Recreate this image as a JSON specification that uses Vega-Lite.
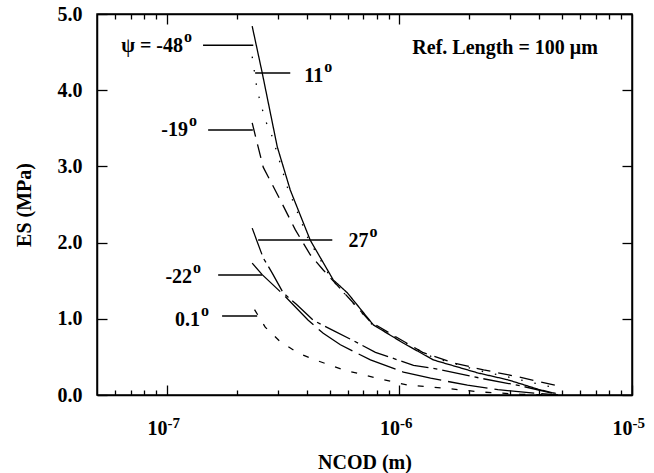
{
  "$schema": "https://vega.github.io/schema/vega-lite/v6.json",
  "width": 535,
  "height": 381,
  "autosize": "none",
  "padding": {"left": 97, "top": 14, "right": 22, "bottom": 78},
  "background": "white",
  "config": {
    "view": {"stroke": "black", "strokeWidth": 1.5},
    "font": "Liberation Serif",
    "axis": {
      "grid": false,
      "domainColor": "black",
      "domainWidth": 1.5,
      "tickColor": "black",
      "tickWidth": 1.3,
      "labelColor": "black",
      "titleColor": "black",
      "labelFont": "Liberation Serif",
      "titleFont": "Liberation Serif",
      "labelFontWeight": "bold",
      "titleFontWeight": "bold",
      "labelFontSize": 20,
      "titleFontSize": 20,
      "labelFlush": false,
      "labelOverlap": false,
      "labelBound": false
    }
  },
  "datasets": {
    "curves": [
      {"psi": "-48", "ncod": 2.325e-7, "es": 4.84},
      {"psi": "-48", "ncod": 2.567e-7, "es": 4.23},
      {"psi": "-48", "ncod": 2.979e-7, "es": 3.26},
      {"psi": "-48", "ncod": 3.39e-7, "es": 2.69},
      {"psi": "-48", "ncod": 4.134e-7, "es": 2.03},
      {"psi": "-48", "ncod": 5.19e-7, "es": 1.51},
      {"psi": "-48", "ncod": 5.97e-7, "es": 1.34},
      {"psi": "-48", "ncod": 7.72e-7, "es": 0.92},
      {"psi": "-48", "ncod": 1.04e-6, "es": 0.68},
      {"psi": "-48", "ncod": 1.40e-6, "es": 0.46},
      {"psi": "-48", "ncod": 2.17e-6, "es": 0.29},
      {"psi": "-48", "ncod": 2.92e-6, "es": 0.20},
      {"psi": "-48", "ncod": 4.0e-6, "es": 0.07},
      {"psi": "-48", "ncod": 4.7e-6, "es": 0.02},

      {"psi": "11", "ncod": 2.325e-7, "es": 4.44},
      {"psi": "11", "ncod": 2.443e-7, "es": 4.0},
      {"psi": "11", "ncod": 2.645e-7, "es": 3.61},
      {"psi": "11", "ncod": 2.836e-7, "es": 3.39},
      {"psi": "11", "ncod": 3.3e-7, "es": 2.72},
      {"psi": "11", "ncod": 4.05e-7, "es": 2.05},
      {"psi": "11", "ncod": 5.1e-7, "es": 1.52},
      {"psi": "11", "ncod": 7.6e-7, "es": 0.93},
      {"psi": "11", "ncod": 1.03e-6, "es": 0.70},
      {"psi": "11", "ncod": 1.4e-6, "es": 0.49},
      {"psi": "11", "ncod": 2.2e-6, "es": 0.32},
      {"psi": "11", "ncod": 3.0e-6, "es": 0.23},
      {"psi": "11", "ncod": 4.0e-6, "es": 0.14},
      {"psi": "11", "ncod": 4.9e-6, "es": 0.08},

      {"psi": "-19", "ncod": 2.325e-7, "es": 3.57},
      {"psi": "-19", "ncod": 2.593e-7, "es": 2.99},
      {"psi": "-19", "ncod": 3.07e-7, "es": 2.56},
      {"psi": "-19", "ncod": 3.561e-7, "es": 2.17},
      {"psi": "-19", "ncod": 4.134e-7, "es": 1.84},
      {"psi": "-19", "ncod": 4.70e-7, "es": 1.64},
      {"psi": "-19", "ncod": 6.15e-7, "es": 1.25},
      {"psi": "-19", "ncod": 7.5e-7, "es": 0.96},
      {"psi": "-19", "ncod": 9.33e-7, "es": 0.79},
      {"psi": "-19", "ncod": 1.257e-6, "es": 0.56},
      {"psi": "-19", "ncod": 1.709e-6, "es": 0.42},
      {"psi": "-19", "ncod": 2.30e-6, "es": 0.33},
      {"psi": "-19", "ncod": 3.23e-6, "es": 0.24},
      {"psi": "-19", "ncod": 4.94e-6, "es": 0.11},

      {"psi": "27", "ncod": 2.325e-7, "es": 2.19},
      {"psi": "27", "ncod": 2.593e-7, "es": 1.80},
      {"psi": "27", "ncod": 2.836e-7, "es": 1.60},
      {"psi": "27", "ncod": 3.162e-7, "es": 1.34},
      {"psi": "27", "ncod": 3.6e-7, "es": 1.19},
      {"psi": "27", "ncod": 4.26e-7, "es": 0.98},
      {"psi": "27", "ncod": 5.2e-7, "es": 0.845},
      {"psi": "27", "ncod": 6.27e-7, "es": 0.72},
      {"psi": "27", "ncod": 7.88e-7, "es": 0.56},
      {"psi": "27", "ncod": 1.149e-6, "es": 0.39},
      {"psi": "27", "ncod": 1.458e-6, "es": 0.34},
      {"psi": "27", "ncod": 2.234e-6, "es": 0.22},
      {"psi": "27", "ncod": 3.32e-6, "es": 0.12},
      {"psi": "27", "ncod": 4.75e-6, "es": 0.01},

      {"psi": "-22", "ncod": 2.325e-7, "es": 1.73},
      {"psi": "-22", "ncod": 2.567e-7, "es": 1.58},
      {"psi": "-22", "ncod": 3.16e-7, "es": 1.32},
      {"psi": "-22", "ncod": 4.05e-7, "es": 0.98},
      {"psi": "-22", "ncod": 4.70e-7, "es": 0.81},
      {"psi": "-22", "ncod": 5.57e-7, "es": 0.66},
      {"psi": "-22", "ncod": 7.5e-7, "es": 0.46},
      {"psi": "-22", "ncod": 1.04e-6, "es": 0.30},
      {"psi": "-22", "ncod": 1.36e-6, "es": 0.22},
      {"psi": "-22", "ncod": 1.96e-6, "es": 0.13},
      {"psi": "-22", "ncod": 2.65e-6, "es": 0.07},
      {"psi": "-22", "ncod": 3.6e-6, "es": 0.03},
      {"psi": "-22", "ncod": 4.8e-6, "es": 0.0},

      {"psi": "0.1", "ncod": 2.38e-7, "es": 1.12},
      {"psi": "0.1", "ncod": 2.645e-7, "es": 0.89},
      {"psi": "0.1", "ncod": 3.07e-7, "es": 0.70},
      {"psi": "0.1", "ncod": 3.67e-7, "es": 0.55},
      {"psi": "0.1", "ncod": 4.343e-7, "es": 0.46},
      {"psi": "0.1", "ncod": 5.74e-7, "es": 0.33},
      {"psi": "0.1", "ncod": 8.04e-7, "es": 0.22},
      {"psi": "0.1", "ncod": 1.083e-6, "es": 0.13},
      {"psi": "0.1", "ncod": 1.548e-6, "es": 0.09},
      {"psi": "0.1", "ncod": 2.234e-6, "es": 0.04},
      {"psi": "0.1", "ncod": 3.3e-6, "es": 0.01},
      {"psi": "0.1", "ncod": 4.8e-6, "es": 0.0}
    ],
    "leaders": [
      {"psi": "-48", "x1": 1.429e-7, "x2": 2.35e-7, "es": 4.59},
      {"psi": "11", "x1": 2.394e-7, "x2": 3.39e-7, "es": 4.226},
      {"psi": "-19", "x1": 1.503e-7, "x2": 2.34e-7, "es": 3.478},
      {"psi": "27", "x1": 2.466e-7, "x2": 5.14e-7, "es": 2.034},
      {"psi": "-22", "x1": 1.66e-7, "x2": 2.567e-7, "es": 1.575},
      {"psi": "0.1", "x1": 1.726e-7, "x2": 2.443e-7, "es": 1.037}
    ],
    "labels": [
      {"text": "ψ = -48", "ncod": 1.172e-7, "es": 4.58, "sup": "o"},
      {"text": "11", "ncod": 4.70e-7, "es": 4.19, "sup": "o"},
      {"text": "-19", "ncod": 1.231e-7, "es": 3.48, "sup": "o"},
      {"text": "27", "ncod": 7.35e-7, "es": 2.02, "sup": "o"},
      {"text": "-22", "ncod": 1.282e-7, "es": 1.55, "sup": "o"},
      {"text": "0.1", "ncod": 1.388e-7, "es": 0.98, "sup": "o"},
      {"text": "Ref. Length = 100 μm", "ncod": 7.13e-6, "es": 4.55, "sup": ""}
    ]
  },
  "resolve": {"axis": {"x": "independent", "y": "independent"}},
  "layer": [
    {
      "data": {"name": "curves"},
      "mark": {"type": "line", "color": "black", "strokeWidth": 1.3},
      "encoding": {
        "x": {
          "field": "ncod", "type": "quantitative",
          "scale": {"type": "log", "domain": [5e-8, 1e-5], "nice": false},
          "axis": {
            "orient": "bottom",
            "values": [1e-7, 1e-6, 1e-5],
            "labelExpr": "'10'",
            "labelAlign": "right",
            "tickSize": -10,
            "labelPadding": 33,
            "title": "NCOD (m)",
            "titlePadding": 14
          }
        },
        "y": {
          "field": "es", "type": "quantitative",
          "scale": {"domain": [0, 5], "nice": false},
          "axis": {
            "orient": "left",
            "values": [0, 1, 2, 3, 4, 5],
            "format": ".1f",
            "tickSize": -10,
            "labelPadding": 25,
            "title": "ES (MPa)",
            "titlePadding": 23
          }
        },
        "strokeDash": {
          "field": "psi", "type": "nominal",
          "scale": {
            "domain": ["-48", "11", "-19", "27", "-22", "0.1"],
            "range": [[1, 0], [1.5, 12], [14, 8], [28, 5, 4, 5], [40, 7], [6, 11]]
          },
          "legend": null
        }
      }
    },
    {
      "data": {"name": "leaders"},
      "mark": {"type": "rule", "color": "black", "strokeWidth": 1.3},
      "encoding": {
        "x": {
          "field": "x1", "type": "quantitative",
          "scale": {"type": "log", "domain": [5e-8, 1e-5], "nice": false},
          "axis": {
            "orient": "bottom",
            "values": [1e-7, 1e-6, 1e-5],
            "labelExpr": "'-' + round(-log(datum.value) / LN10)",
            "labelFontSize": 15,
            "labelAlign": "left",
            "ticks": false,
            "domain": false,
            "labelPadding": 20,
            "title": null
          }
        },
        "x2": {"field": "x2"},
        "y": {
          "field": "es", "type": "quantitative",
          "scale": {"domain": [0, 5], "nice": false},
          "axis": {
            "orient": "right",
            "values": [0, 1, 2, 3, 4, 5],
            "labels": false,
            "tickSize": -10,
            "title": null
          }
        }
      }
    },
    {
      "data": {"name": "labels"},
      "mark": {"type": "text", "align": "right", "baseline": "middle", "fontSize": 20, "fontWeight": "bold", "font": "Liberation Serif", "color": "black"},
      "encoding": {
        "x": {
          "field": "ncod", "type": "quantitative",
          "scale": {"type": "log", "domain": [5e-8, 1e-5], "nice": false},
          "axis": {
            "orient": "top",
            "values": [6e-8, 7e-8, 8e-8, 9e-8, 1e-7, 2e-7, 3e-7, 4e-7, 5e-7, 6e-7, 7e-7, 8e-7, 9e-7, 1e-6, 2e-6, 3e-6, 4e-6, 5e-6, 6e-6, 7e-6, 8e-6, 9e-6],
            "labels": false,
            "tickSize": {"condition": {"test": "indexof([1e-7, 1e-6, 1e-5], datum.value) >= 0", "value": -10}, "value": -5},
            "title": null
          }
        },
        "y": {
          "field": "es", "type": "quantitative",
          "scale": {"domain": [0, 5], "nice": false},
          "axis": null
        },
        "text": {"field": "text"}
      }
    },
    {
      "data": {"name": "labels"},
      "mark": {"type": "text", "align": "left", "baseline": "middle", "fontSize": 16, "fontWeight": "bold", "font": "Liberation Serif", "color": "black", "dy": -9, "dx": 1},
      "encoding": {
        "x": {
          "field": "ncod", "type": "quantitative",
          "scale": {"type": "log", "domain": [5e-8, 1e-5], "nice": false},
          "axis": {
            "orient": "bottom",
            "values": [6e-8, 7e-8, 8e-8, 9e-8, 2e-7, 3e-7, 4e-7, 5e-7, 6e-7, 7e-7, 8e-7, 9e-7, 2e-6, 3e-6, 4e-6, 5e-6, 6e-6, 7e-6, 8e-6, 9e-6],
            "labels": false,
            "domain": false,
            "tickSize": -5,
            "title": null
          }
        },
        "y": {
          "field": "es", "type": "quantitative",
          "scale": {"domain": [0, 5], "nice": false},
          "axis": null
        },
        "text": {"field": "sup"}
      }
    }
  ]
}
